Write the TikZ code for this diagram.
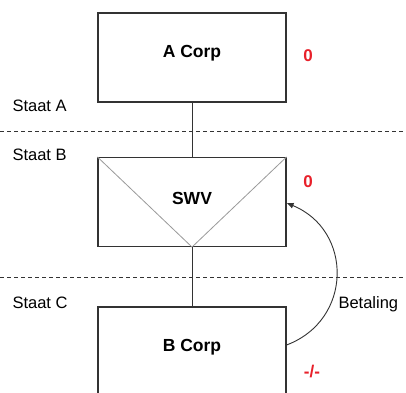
\documentclass[tikz,border=0pt]{standalone}
\usepackage{fontspec}
\setmainfont{Liberation Sans}
\usetikzlibrary{arrows.meta}
\definecolor{boxline}{HTML}{333333}
\definecolor{vline}{HTML}{9A9A9A}
\definecolor{taxred}{HTML}{E8202A}

\begin{document}
\begin{tikzpicture}[x=1pt,y=1pt,font=\fontsize{16.5}{19}\selectfont,
	corp/.style={draw=boxline,line width=1.1pt,minimum width=188pt,minimum height=89pt},
	border/.style={draw=boxline,line width=0.9pt,dash pattern=on 4pt off 3pt},
	tax/.style={text=taxred,font=\fontsize{17}{19}\selectfont\bfseries}]
\useasboundingbox (0,0) rectangle (406,392);
\clip (0,0) rectangle (406,392);
\fill[white] (0,0) rectangle (406,392);
% states
\draw[border] (0,261) coordinate (ab1) -- (406,261) coordinate (ab2);
\draw[border] (0,115) coordinate (bc1) -- (406,115) coordinate (bc2);
\node [anchor=west] (sa) at (9,286) {Staat A};
\node [anchor=west] (sb) at (9,237) {Staat B};
\node [anchor=west] (sc) at (9,89) {Staat C};
% entities
\node [corp] (acorp) at (192,334.5) {};
\node [font=\fontsize{17.5}{20}\selectfont\bfseries] (acorpt) at (192,339) {A Corp};
\node [corp] (swv) at (192,190) {};
\node [font=\fontsize{17.5}{20}\selectfont\bfseries] (swvt) at (192,194) {SWV};
\node [corp] (bcorp) at (192,40.5) {};
\node [font=\fontsize{17.5}{20}\selectfont\bfseries] (bcorpt) at (192,45) {B Corp};
\draw[vline,line width=0.8pt] (swv.north west) -- (swv.south) -- (swv.north east);
\draw[boxline,line width=0.9pt] (acorp.south) -- (swv.north);
\draw[boxline,line width=0.9pt] (swv.south) -- (bcorp.north);
% payment
\coordinate (pay1) at (bcorp.east |- 0,47);
\coordinate (pay2) at (swv.east |- 0,189);
\draw[boxline,line width=0.9pt,-{Latex[length=7pt,width=6pt]}] (pay1) .. controls (353,72) and (353,162) .. (pay2);
\node [anchor=west] (pay) at (335,88) {Betaling};
\node [tax] (t1) at (308,336) {0};
\node [tax] (t2) at (308,210) {0};
\node [tax] (t3) at (312,20) {-/-};
\end{tikzpicture}
\end{document}
